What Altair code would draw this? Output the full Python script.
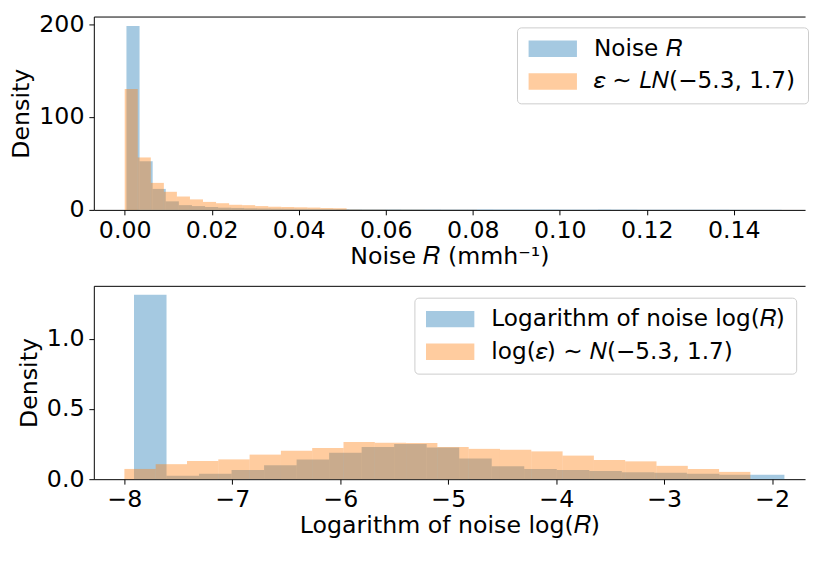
import altair as alt
import pandas as pd

# ---------------- data: top panel (noise R) ----------------
top_blue_label = "Noise 𝑅"
top_orange_label = "𝜀 ∼ 𝐿𝑁(−5.3, 1.7)"
top_blue_start = 0.0004
top_blue_width = 0.003012
top_blue_density = [198.0, 52.4, 22.6, 9.2, 5.1, 4.1, 3.1, 2.4, 2.1,
                    1.7, 1.5, 1.3, 1.2, 1.1, 1.0, 1.0, 0.9, 0.9, 0.8,
                    0.8, 0.8, 0.7, 0.7, 0.7, 0.6, 0.6, 0.6, 0.6, 0.5,
                    0.5, 0.5, 0.5, 0.5, 0.4, 0.4, 0.4, 0.4, 0.4, 0.4,
                    0.3, 0.3, 0.3, 0.3, 0.3, 0.3, 0.3, 0.2, 0.2, 0.2, 0.2]
top_orange_start = 0.0
top_orange_width = 0.003
top_orange_density = [130.2, 56.5, 29.1, 19.5, 14.4, 11.3, 8.6, 7.2, 5.5,
                      5.1, 4.1, 3.4, 3.1, 2.8, 2.5, 2.0, 1.7,
                      0.5, 0.4, 0.4, 0.3, 0.3, 0.3, 0.2, 0.2, 0.2, 0.2]
top_x_ticks = [0.00, 0.02, 0.04, 0.06, 0.08, 0.10, 0.12, 0.14]
top_y_ticks = [0, 100, 200]

# ---------------- data: bottom panel (log noise) ----------------
bot_blue_label = "Logarithm of noise log(𝑅)"
bot_orange_label = "log(𝜀) ∼ 𝑁(−5.3, 1.7)"
bot_blue_start = -7.911
bot_blue_width = 0.3012
bot_blue_density = [1.314, 0.025, 0.039, 0.066, 0.100, 0.141, 0.189, 0.230,
                    0.250, 0.225, 0.148, 0.093, 0.073, 0.066, 0.059, 0.050,
                    0.045, 0.039, 0.032, 0.032]
bot_orange_start = -8.0
bot_orange_width = 0.2899
bot_orange_density = [0.073, 0.107, 0.130, 0.141, 0.175, 0.202, 0.223, 0.264,
                      0.259, 0.257, 0.230, 0.216, 0.209, 0.198, 0.168, 0.136,
                      0.127, 0.095, 0.073, 0.052]
bot_x_ticks = [-8, -7, -6, -5, -4, -3, -2]
bot_y_ticks = [0.0, 0.5, 1.0]


def hist_rows(label, start, width, dens):
    return [{"series": label, "x0": start + i * width, "x1": start + (i + 1) * width,
             "density": d} for i, d in enumerate(dens)]


top_df = pd.DataFrame(hist_rows(top_blue_label, top_blue_start, top_blue_width, top_blue_density)
                      + hist_rows(top_orange_label, top_orange_start, top_orange_width, top_orange_density))
bot_df = pd.DataFrame(hist_rows(bot_blue_label, bot_blue_start, bot_blue_width, bot_blue_density)
                      + hist_rows(bot_orange_label, bot_orange_start, bot_orange_width, bot_orange_density))

W = 721
H = 196
FS = 24
# legend patch: 49 x 16.7 px drawn with a nominal symbol size of 20 px
RECT = "M-2.45,-0.835L2.45,-0.835L2.45,0.835L-2.45,0.835Z"


def panel(df, labels, xdom, xticks, xfmt, xtitle, ydom, yticks, yfmt, lx, ly):
    xs = alt.Scale(domain=xdom, nice=False, zero=False)
    ys = alt.Scale(domain=ydom, nice=False, zero=False)
    yaxis = alt.Axis(values=yticks, format=yfmt, title="Density", labelOverlap=False)
    legend = alt.Legend(title=None, orient="none", legendX=lx, legendY=ly, direction="vertical",
                        symbolType=RECT, symbolSize=400, symbolOpacity=0.4, symbolOffset=14.5,
                        symbolStrokeWidth=0, labelFontSize=23.5, labelLimit=600,
                        labelOffset=30, rowPadding=8, padding=10,
                        strokeColor="#cccccc", cornerRadius=4,
                        fillColor="rgba(255,255,255,0.8)", labelColor="black")
    bars = alt.Chart(df).mark_bar(opacity=0.4).encode(
        x=alt.X("x0:Q", scale=xs, axis=alt.Axis(values=xticks, format=xfmt, title=xtitle,
                                                labelOverlap=False)),
        x2="x1:Q",
        y=alt.Y("density:Q", stack=None, scale=ys, axis=yaxis),
        y2=alt.datum(0),
        color=alt.Color("series:N", scale=alt.Scale(domain=labels, range=["#1f77b4", "#ff7f0e"]),
                        sort=labels, legend=legend),
    )
    spine = alt.Chart(df).mark_bar(opacity=0).encode(
        x=alt.X("x0:Q", scale=xs, axis=alt.Axis(orient="top", labels=False, ticks=False,
                                                title=None, domain=True, minExtent=0,
                                                maxExtent=0, offset=0, tickSize=0,
                                                labelPadding=0)),
        x2="x1:Q",
        y=alt.Y("density:Q", stack=None, scale=ys, axis=yaxis),
        y2=alt.datum(0),
    )
    return alt.layer(bars, spine).resolve_axis(x="independent").properties(width=W, height=H)


# x domains chosen so the plotted area ends at the right page edge (as in the reference crop)
top = panel(top_df, [top_blue_label, top_orange_label], [-0.0071, 0.15639], top_x_ticks, ".2f",
            "Noise 𝑅 (mmh⁻¹)", [0, 208.3], top_y_ticks, "d", 429, 11)
bot = panel(bot_df, [bot_blue_label, bot_orange_label], [-8.2832, -1.6957], bot_x_ticks, "d",
            "Logarithm of noise log(𝑅)", [0, 1.377], bot_y_ticks, ".1f", 325, 12)

chart = alt.vconcat(top, bot, spacing=18).resolve_scale(color="independent").properties(
    padding={"left": 2, "top": 0, "right": 0, "bottom": 0}
).configure(font="DejaVu Sans").configure_axis(
    labelFontSize=FS, titleFontSize=FS, titleFontWeight="normal",
    labelColor="black", titleColor="black", domainColor="black", tickColor="black",
    tickSize=5, labelPadding=4, titlePadding=2, grid=False, domainWidth=1, tickWidth=1,
    labelFont="DejaVu Sans", titleFont="DejaVu Sans"
).configure_axisY(labelPadding=5, titlePadding=5).configure_view(stroke=None).configure_legend(
    labelFont="DejaVu Sans"
)

chart.save("out.html", embed_options={"renderer": "svg", "actions": False})
